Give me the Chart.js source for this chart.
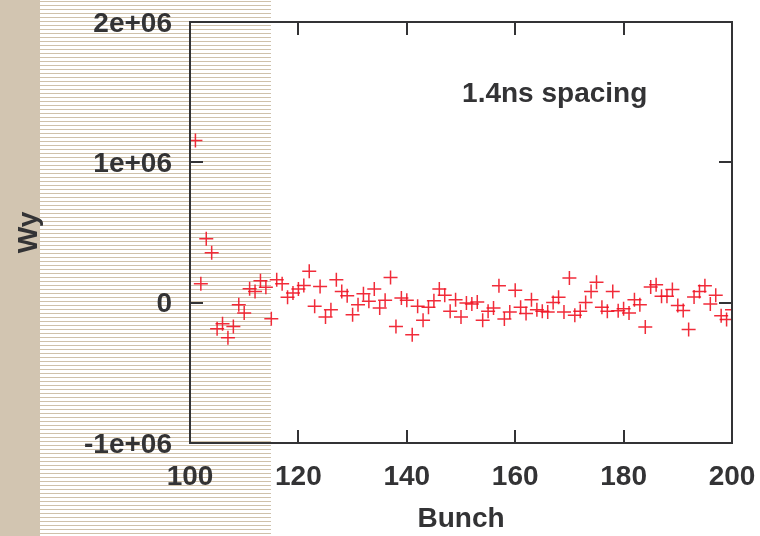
<!DOCTYPE html>
<html>
<head>
<meta charset="utf-8">
<script src="https://cdn.jsdelivr.net/npm/chart.js@4/dist/chart.umd.min.js"></script>
<style>
  html, body { margin: 0; padding: 0; background: #fff; }
  #wrap { width: 760px; height: 536px; }
</style>
</head>
<body>
<div id="wrap"><canvas id="wyChart" width="760" height="536"></canvas></div>
<script>
// bunch numbers (x) and Wy values
const bunches = [
  101, 102, 103, 104, 105, 106, 107, 108, 109, 110,
  111, 112, 113, 114, 115, 116, 117, 118, 119, 120,
  121, 122, 123, 124, 125, 126, 127, 128, 129, 130,
  131, 132, 133, 134, 135, 136, 137, 138, 139, 140,
  141, 142, 143, 144, 145, 146, 147, 148, 149, 150,
  151, 152, 153, 154, 155, 156, 157, 158, 159, 160,
  161, 162, 163, 164, 165, 166, 167, 168, 169, 170,
  171, 172, 173, 174, 175, 176, 177, 178, 179, 180,
  181, 182, 183, 184, 185, 186, 187, 188, 189, 190,
  191, 192, 193, 194, 195, 196, 197, 198, 199, 200
];
const wy = [
  1155000, 135000, 456000, 356000, -185000, -150000, -250000, -170000, -14000, -73000,
  100000, 80000, 157000, 109000, -114000, 164000, 135000, 38000, 69000, 98000,
  123000, 223000, -26000, 116000, -102000, -50000, 164000, 80000, 50000, -86000,
  -14000, 64000, 10000, 98000, -38000, 17000, 180000, -169000, 33000, 17000,
  -228000, -26000, -126000, -33000, 14000, 98000, 52000, -62000, 21000, -102000,
  -2000, -9000, 5000, -126000, -62000, -38000, 121000, -116000, -66000, 88000,
  -33000, -78000, 21000, -50000, -62000, -66000, 2000, 38000, -66000, 176000,
  -90000, -62000, 2000, 80000, 145000, -33000, -62000, 80000, -57000, -43000,
  -73000, 21000, -14000, -173000, 112000, 128000, 45000, 45000, 93000, -21000,
  -55000, -192000, 41000, 80000, 121000, -9000, 52000, -93000, -120000, -50000
];

// axis ticks
const xTickValues = [100, 120, 140, 160, 180, 200];
const yTickValues = [-1000000, 0, 1000000, 2000000];
const yTickLabels = ['-1e+06', '0', '1e+06', '2e+06'];

const points = bunches.map((b, i) => ({ x: b, y: wy[i] }));

const inkColor = '#333335';
const fontFamily = '"Liberation Sans", Arial, sans-serif';

// striped page background on the left, as in the original figure
const backdrop = {
  id: 'backdrop',
  beforeDraw(chart) {
    const ctx = chart.ctx;
    ctx.save();
    ctx.fillStyle = '#ffffff';
    ctx.fillRect(0, 0, chart.width, chart.height);
    ctx.fillStyle = '#d2c5b1';
    ctx.fillRect(0, 0, 40, chart.height);
    ctx.fillStyle = '#cfc1aa';
    for (let y = 1; y < chart.height; y += 4) {
      ctx.fillRect(40, y, 231, 1);
    }
    ctx.restore();
  }
};

// frame with inward ticks on all four sides, plus the in-plot label
const frame = {
  id: 'frame',
  afterDraw(chart) {
    const ctx = chart.ctx;
    const a = chart.chartArea;
    const xs = chart.scales.x, ys = chart.scales.y;
    const len = 13;
    ctx.save();
    ctx.strokeStyle = inkColor;
    ctx.lineWidth = 2;
    ctx.strokeRect(a.left, a.top, a.right - a.left, a.bottom - a.top);
    ctx.beginPath();
    xTickValues.slice(1, -1).forEach(v => {
      const px = Math.round(xs.getPixelForValue(v));
      ctx.moveTo(px, a.bottom); ctx.lineTo(px, a.bottom - len);
      ctx.moveTo(px, a.top); ctx.lineTo(px, a.top + len);
    });
    yTickValues.slice(1, -1).forEach(v => {
      const py = Math.round(ys.getPixelForValue(v));
      ctx.moveTo(a.left, py); ctx.lineTo(a.left + len, py);
      ctx.moveTo(a.right, py); ctx.lineTo(a.right - len, py);
    });
    ctx.stroke();

    ctx.fillStyle = inkColor;
    ctx.font = 'bold 28px ' + fontFamily;
    ctx.textAlign = 'left';
    ctx.textBaseline = 'alphabetic';
    ctx.fillText('1.4ns spacing', xs.getPixelForValue(150.2), ys.getPixelForValue(1430000));
    ctx.restore();
  }
};

new Chart(document.getElementById('wyChart'), {
  type: 'scatter',
  data: {
    datasets: [{
      label: 'Wy',
      data: points,
      pointStyle: 'cross',
      pointRadius: 7,
      pointBorderWidth: 1.5,
      borderColor: 'rgba(240, 20, 35, 0.9)',
      backgroundColor: 'rgba(240, 20, 35, 0.9)'
    }]
  },
  options: {
    responsive: false,
    animation: false,
    events: [],
    layout: { padding: { top: 22, right: 28, left: 0, bottom: 0 } },
    plugins: {
      legend: { display: false },
      tooltip: { enabled: false }
    },
    scales: {
      x: {
        type: 'linear',
        min: 100,
        max: 200,
        afterFit(scale) {
          scale.height = 93;
          scale.paddingLeft = 0;
          scale.paddingRight = 0;
        },
        afterBuildTicks(scale) { scale.ticks = xTickValues.map(v => ({ value: v })); },
        grid: { display: false, drawTicks: false },
        border: { display: false },
        ticks: {
          padding: 17,
          color: inkColor,
          font: { family: fontFamily, size: 28, weight: 'bold' },
          maxRotation: 0
        },
        title: {
          display: true,
          text: 'Bunch',
          color: inkColor,
          padding: { top: 0, bottom: 0 },
          font: { family: fontFamily, size: 28, weight: 'bold' }
        }
      },
      y: {
        type: 'linear',
        min: -1000000,
        max: 2000000,
        afterFit(scale) {
          scale.width = 190;
          scale.paddingTop = 0;
          scale.paddingBottom = 0;
        },
        afterBuildTicks(scale) { scale.ticks = yTickValues.map(v => ({ value: v })); },
        grid: { display: false, drawTicks: false },
        border: { display: false },
        ticks: {
          padding: 18,
          labelOffset: 2,
          color: inkColor,
          font: { family: fontFamily, size: 28, weight: 'bold' },
          callback: (v) => {
            const i = yTickValues.indexOf(v);
            return i >= 0 ? yTickLabels[i] : '';
          }
        },
        title: {
          display: true,
          text: 'Wy',
          color: inkColor,
          padding: { top: 12, bottom: 0 },
          font: { family: fontFamily, size: 28, weight: 'bold' }
        }
      }
    }
  },
  plugins: [backdrop, frame]
});
</script>
</body>
</html>
